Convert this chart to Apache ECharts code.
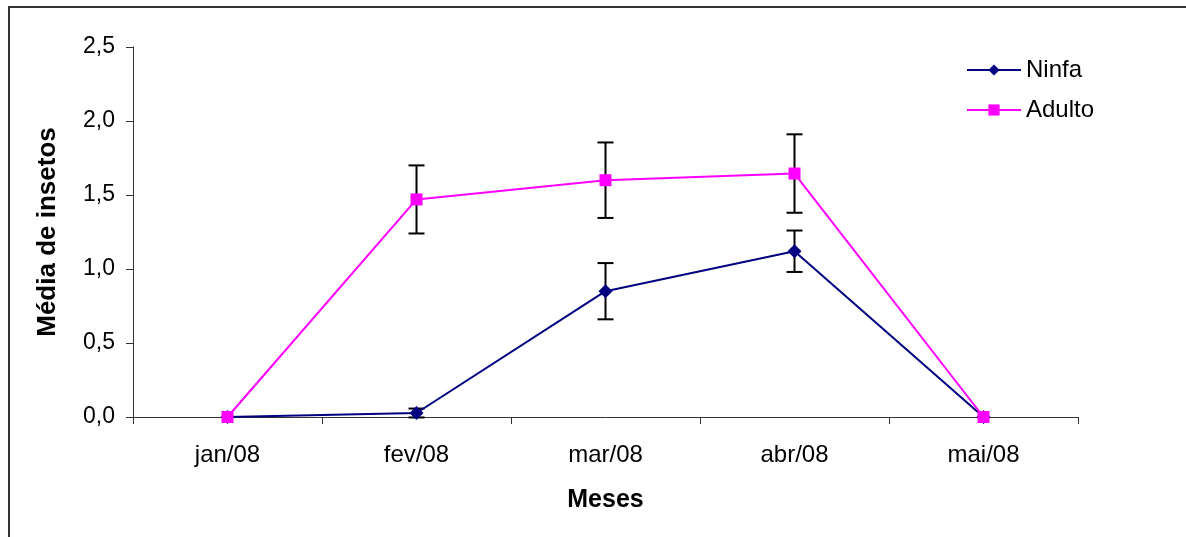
<!DOCTYPE html>
<html>
<head>
<meta charset="utf-8">
<script src="https://cdn.jsdelivr.net/npm/echarts@6/dist/echarts.min.js"></script>
<style>
html,body{margin:0;padding:0;background:#fff;}
#chart{width:1186px;height:537px;}
</style>
</head>
<body>
<div id="chart"></div>
<script>
const categories = ['jan/08', 'fev/08', 'mar/08', 'abr/08', 'mai/08'];
const ninfa = [0, 0.027, 0.85, 1.12, 0];
const ninfaErr = [0, 0.03, 0.19, 0.14, 0];
const adulto = [0, 1.47, 1.60, 1.645, 0];
const adultoErr = [0, 0.23, 0.255, 0.265, 0];
const yTicks = ['0,0', '0,5', '1,0', '1,5', '2,0', '2,5'];

const errData = [];
categories.forEach((c, i) => {
  if (ninfaErr[i] > 0) errData.push([i, ninfa[i] - ninfaErr[i], ninfa[i] + ninfaErr[i]]);
  if (adultoErr[i] > 0) errData.push([i, adulto[i] - adultoErr[i], adulto[i] + adultoErr[i]]);
});

const font = 'Liberation Sans, Arial, sans-serif';
const chart = echarts.init(document.getElementById('chart'));
chart.setOption({
  animation: false,
  backgroundColor: '#fff',
  textStyle: { fontFamily: font },
  grid: { left: 133, top: 47, right: 108, bottom: 120 },
  legend: {
    orient: 'vertical',
    left: 966, top: 58,
    padding: 0,
    itemWidth: 54, itemHeight: 14, itemGap: 16,
    textStyle: { fontSize: 24, color: '#000', fontFamily: font },
    data: ['Ninfa', 'Adulto']
  },
  xAxis: {
    type: 'category',
    data: categories,
    boundaryGap: true,
    name: 'Meses',
    nameLocation: 'middle',
    nameGap: 71,
    nameTextStyle: { fontSize: 25, fontWeight: 'bold', color: '#000', fontFamily: font, verticalAlign: 'top' },
    axisLine: { lineStyle: { color: '#333', width: 1 } },
    axisTick: { show: true, length: 7, lineStyle: { color: '#333' }, alignWithLabel: false },
    axisLabel: { fontSize: 24, color: '#000', margin: 26, fontFamily: font }
  },
  yAxis: {
    type: 'value',
    min: 0, max: 2.5, interval: 0.5,
    name: 'Média de insetos',
    nameLocation: 'middle',
    nameGap: 72,
    nameTextStyle: { fontSize: 26, fontWeight: 'bold', color: '#000', fontFamily: font },
    axisLine: { show: true, lineStyle: { color: '#333', width: 1 } },
    axisTick: { show: true, length: 7, lineStyle: { color: '#333' } },
    splitLine: { show: false },
    axisLabel: {
      fontSize: 23, color: '#000', margin: 18, fontFamily: font,
      formatter: v => yTicks[Math.round(v / 0.5)]
    }
  },
  series: [
    {
      type: 'custom',
      name: 'err',
      z: 1,
      silent: true,
      data: errData,
      renderItem: (params, api) => {
        const x = api.value(0);
        const lo = api.coord([x, api.value(1)]);
        const hi = api.coord([x, api.value(2)]);
        const hw = 8;
        const st = { stroke: '#000', lineWidth: 2 };
        return {
          type: 'group',
          children: [
            { type: 'line', shape: { x1: lo[0], y1: lo[1], x2: hi[0], y2: hi[1] }, style: st },
            { type: 'line', shape: { x1: lo[0] - hw, y1: lo[1], x2: lo[0] + hw, y2: lo[1] }, style: st },
            { type: 'line', shape: { x1: hi[0] - hw, y1: hi[1], x2: hi[0] + hw, y2: hi[1] }, style: st }
          ]
        };
      }
    },
    {
      name: 'Ninfa',
      type: 'line',
      z: 3,
      data: ninfa,
      symbol: 'diamond',
      symbolSize: 14,
      lineStyle: { color: '#000080', width: 2 },
      itemStyle: { color: '#000080' }
    },
    {
      name: 'Adulto',
      type: 'line',
      z: 4,
      data: adulto,
      symbol: 'rect',
      symbolSize: 12,
      lineStyle: { color: '#FF00FF', width: 2 },
      itemStyle: { color: '#FF00FF' }
    }
  ],
  graphic: [
    { type: 'line', shape: { x1: 8, y1: 7, x2: 1186, y2: 7 }, style: { stroke: '#333', lineWidth: 2 } },
    { type: 'line', shape: { x1: 9, y1: 7, x2: 9, y2: 537 }, style: { stroke: '#333', lineWidth: 2 } }
  ]
});
</script>
</body>
</html>
